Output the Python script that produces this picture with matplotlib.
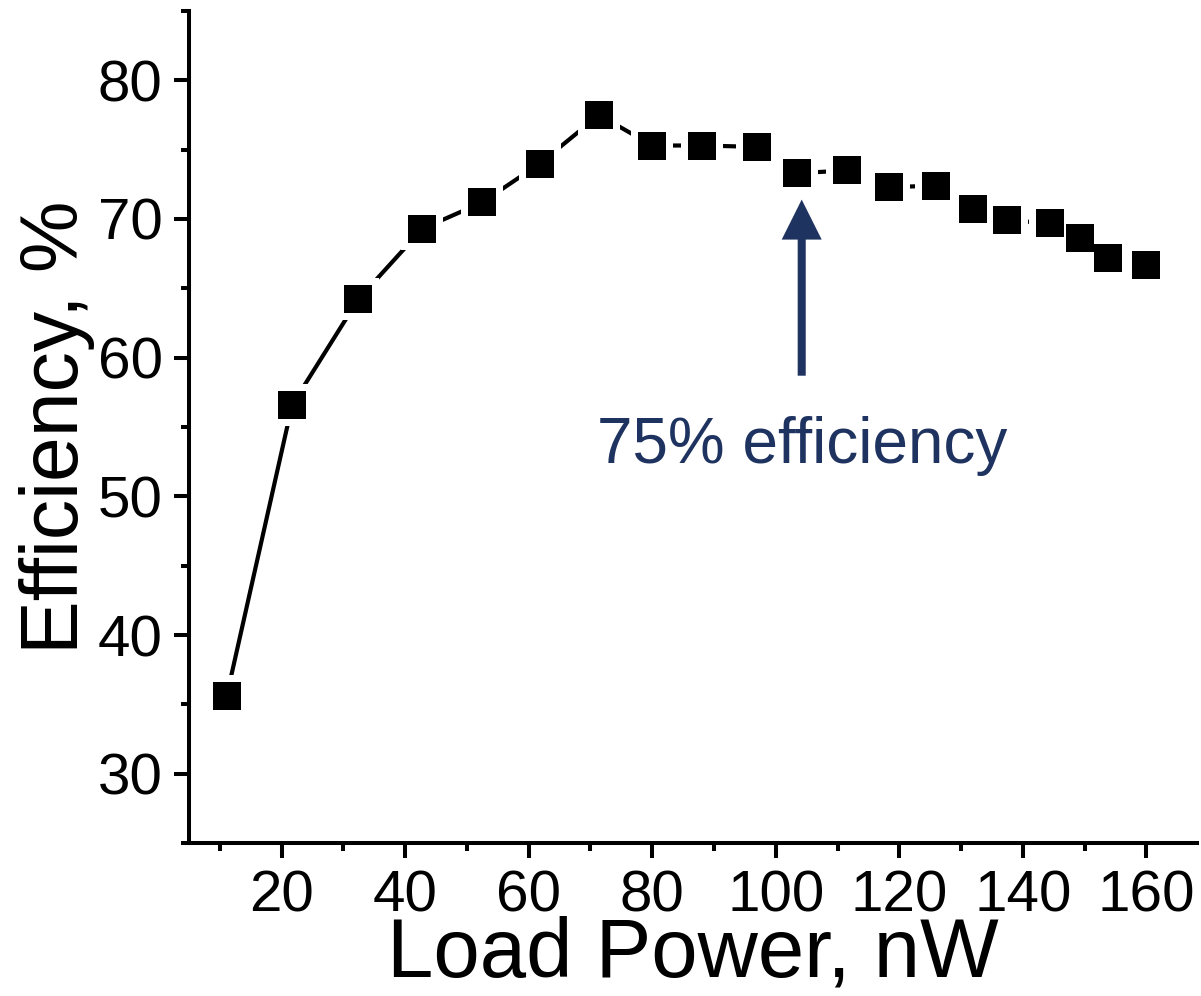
import matplotlib
matplotlib.use('Agg')
import matplotlib.pyplot as plt
from matplotlib.ticker import MultipleLocator

# Data
load_power = [11.1, 21.7, 32.4, 42.8, 52.5, 61.8, 71.4, 80.0, 88.1, 96.9,
              103.4, 111.5, 118.3, 126.0, 132.0, 137.5, 144.4, 149.3, 153.8, 159.9]
efficiency = [35.6, 56.6, 64.2, 69.3, 71.2, 74.0, 77.5, 75.3, 75.3, 75.2,
              73.3, 73.5, 72.3, 72.4, 70.7, 69.9, 69.7, 68.6, 67.2, 66.7]

note_text = '75% efficiency'
note_x = 104.2
note_tip = 71.4
note_tail = 58.7
note_text_y = 52.4

navy = '#1F3360'

plt.rcParams['font.family'] = ['Liberation Sans', 'DejaVu Sans']

fig = plt.figure(figsize=(12.01, 9.96), dpi=100)
ax = fig.add_axes([189 / 1201, 1 - 843 / 996, (1197 - 189) / 1201, (843 - 11) / 996])

# line, then white squares to open gaps around the markers, then the markers
ax.plot(load_power, efficiency, color='black', lw=3.0, zorder=2)
ax.plot(load_power, efficiency, ls='none', marker='s', ms=30, mfc='white', mec='white', mew=0, zorder=3)
ax.plot(load_power, efficiency, ls='none', marker='s', ms=20.2, mfc='black', mec='black', mew=0, zorder=4)

# annotation arrow and text
ax.annotate('', xy=(note_x, note_tip), xytext=(note_x, note_tail),
            arrowprops=dict(width=5.8, headwidth=28.8, headlength=28.8, shrink=0,
                            facecolor=navy, edgecolor=navy, linewidth=0))
ax.text(note_x, note_text_y, note_text, ha='center', va='baseline', fontsize=46, color=navy)

ax.set_xlim(5, 168.2)
ax.set_ylim(25, 85)
ax.xaxis.set_major_locator(MultipleLocator(20))
ax.xaxis.set_minor_locator(MultipleLocator(10))
ax.yaxis.set_major_locator(MultipleLocator(10))
ax.yaxis.set_minor_locator(MultipleLocator(5))

for side in ['top', 'right']:
    ax.spines[side].set_visible(False)
for side in ['left', 'bottom']:
    ax.spines[side].set_linewidth(2.9)

ax.tick_params(which='major', direction='out', length=11, width=2.9, labelsize=42)
ax.tick_params(axis='x', which='major', pad=8)
ax.tick_params(axis='y', which='major', pad=8)
ax.tick_params(which='minor', direction='out', length=5.5, width=2.9)

ax.set_xlabel('Load Power, nW', fontsize=60, labelpad=-6)
ax.set_ylabel('Efficiency, %', fontsize=58, labelpad=2)

fig.savefig('out.png', dpi=100)
